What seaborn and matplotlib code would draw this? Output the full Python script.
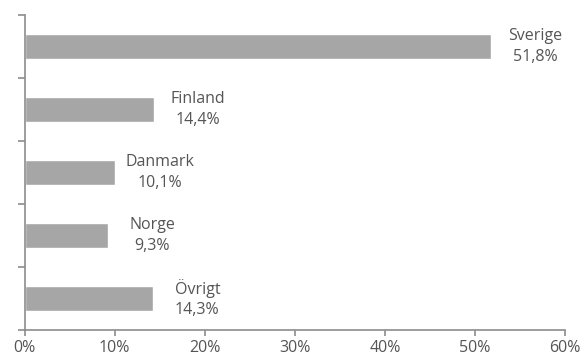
import matplotlib
matplotlib.use("Agg")
import matplotlib.pyplot as plt
import seaborn as sns
import pandas as pd
from matplotlib.ticker import FuncFormatter

countries = ["Sverige", "Finland", "Danmark", "Norge", "Övrigt"]
shares = [51.8, 14.4, 10.1, 9.3, 14.3]
x_ticks = [0, 10, 20, 30, 40, 50, 60]

df = pd.DataFrame({"land": countries, "andel": shares})

sns.set_theme(style="white")
plt.rcParams["font.family"] = ["Open Sans", "DejaVu Sans"]

text_color = "#555555"
axis_color = "#8c8c8c"
bar_color = "#a6a6a6"
font_size = 11.5

fig = plt.figure(figsize=(5.82, 3.58), dpi=100)
ax = fig.add_axes([0.0421, 0.078, 0.9287, 0.88])

sns.barplot(data=df, x="andel", y="land", orient="h", color=bar_color,
            width=0.4, saturation=1, ax=ax, order=countries)

ax.set_xlim(0, 60)
ax.set_ylim(len(countries) - 0.5, -0.5)
ax.set_xticks(x_ticks)
ax.xaxis.set_major_formatter(FuncFormatter(lambda v, _: f"{v:.0f}%"))
ax.set_yticks([i - 0.5 for i in range(len(countries) + 1)])
ax.set_yticklabels([])
ax.set_xlabel("")
ax.set_ylabel("")

for side in ("top", "right"):
    ax.spines[side].set_visible(False)
for side in ("left", "bottom"):
    ax.spines[side].set_color(axis_color)
    ax.spines[side].set_linewidth(1.2)

ax.tick_params(axis="x", direction="out", length=4, width=1.2, color=axis_color,
               labelsize=font_size, labelcolor=text_color, pad=3, bottom=True)
ax.tick_params(axis="y", direction="out", length=5, width=1.2, color=axis_color,
               left=True)

for i, (name, val) in enumerate(zip(countries, shares)):
    label = f"{name}\n{val:.1f}%".replace(".", ",")
    ax.annotate(label, xy=(val, i), xytext=(44, 0), textcoords="offset pixels",
                ha="center", va="center", fontsize=font_size, color=text_color,
                linespacing=1.35)

fig.savefig("out.png", dpi=100)
